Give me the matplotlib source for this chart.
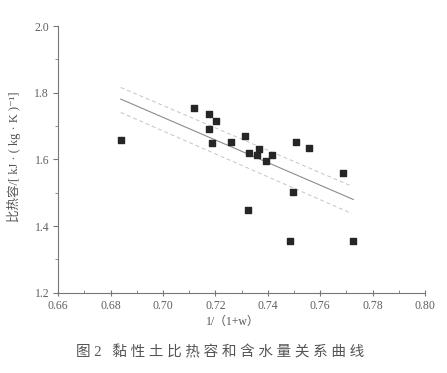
import matplotlib.pyplot as plt
from matplotlib.ticker import MultipleLocator

plt.rcParams['font.family'] = ['Liberation Serif', 'Noto Sans CJK SC', 'DejaVu Sans']

# measured points: 1/(1+w) and specific heat
xs = [0.6839, 0.7120, 0.7176, 0.7202, 0.7176, 0.7188, 0.7260, 0.7313, 0.7329, 0.7368,
      0.7360, 0.7415, 0.7394, 0.7507, 0.7557, 0.7686, 0.7495, 0.7326, 0.7486, 0.7726]
ys = [1.659, 1.753, 1.735, 1.715, 1.691, 1.648, 1.651, 1.670, 1.620, 1.631,
      1.614, 1.613, 1.594, 1.652, 1.635, 1.560, 1.502, 1.448, 1.355, 1.354]

# fitted line and confidence band
fit_x = [0.6839, 0.7726]
fit_y = [1.781, 1.480]
upper_x = [0.6839, 0.7720]
upper_y = [1.816, 1.520]
lower_x = [0.6839, 0.7720]
lower_y = [1.741, 1.438]

fig = plt.figure(figsize=(4.47, 3.73), dpi=100)
ax = fig.add_axes([0.130, 0.215, 0.821, 0.715])

ax.plot(fit_x, fit_y, color='#8c8c8c', lw=0.8)
ax.plot(upper_x, upper_y, color='#c4c4c4', lw=0.7, ls=(0, (4, 3)))
ax.plot(lower_x, lower_y, color='#c4c4c4', lw=0.7, ls=(0, (4, 3)))
ax.scatter(xs, ys, marker='s', s=22, color='#262626', zorder=3)

ax.set_xlim(0.66, 0.80)
ax.set_ylim(1.2, 2.0)
ax.xaxis.set_major_locator(MultipleLocator(0.02))
ax.xaxis.set_minor_locator(MultipleLocator(0.01))
ax.yaxis.set_major_locator(MultipleLocator(0.2))
ax.yaxis.set_minor_locator(MultipleLocator(0.1))
ax.set_xticklabels(['%.2f' % v for v in ax.get_xticks()])
ax.set_yticklabels(['%.1f' % v for v in ax.get_yticks()])

for s in ['top', 'right']:
    ax.spines[s].set_visible(False)
for s in ['left', 'bottom']:
    ax.spines[s].set_color('#777777')
    ax.spines[s].set_linewidth(0.8)

ax.tick_params(axis='x', which='major', direction='inout', length=5, colors='#777777',
               labelcolor='#606060', labelsize=8.5, pad=3)
ax.tick_params(axis='x', which='minor', direction='in', length=2.5, colors='#777777')
ax.tick_params(axis='y', which='major', direction='out', length=3.5, colors='#777777',
               labelcolor='#606060', labelsize=8.5, pad=3)
ax.tick_params(axis='y', which='minor', direction='out', length=2, colors='#777777')

ax.set_xlabel('1/（1+w）', fontsize=8.5, color='#555555')
ax.xaxis.set_label_coords(0.477, -0.085)
ax.set_ylabel('比热容/[ kJ · ( kg · K )⁻¹]', fontsize=9, color='#555555')
ax.yaxis.set_label_coords(-0.10, 0.51)

fig.text(0.492, 0.055, '图 2   黏 性 土 比 热 容 和 含 水 量 关 系 曲 线', ha='center', va='center',
         fontsize=10.5, color='#555555')

fig.savefig('out.png', dpi=100)
